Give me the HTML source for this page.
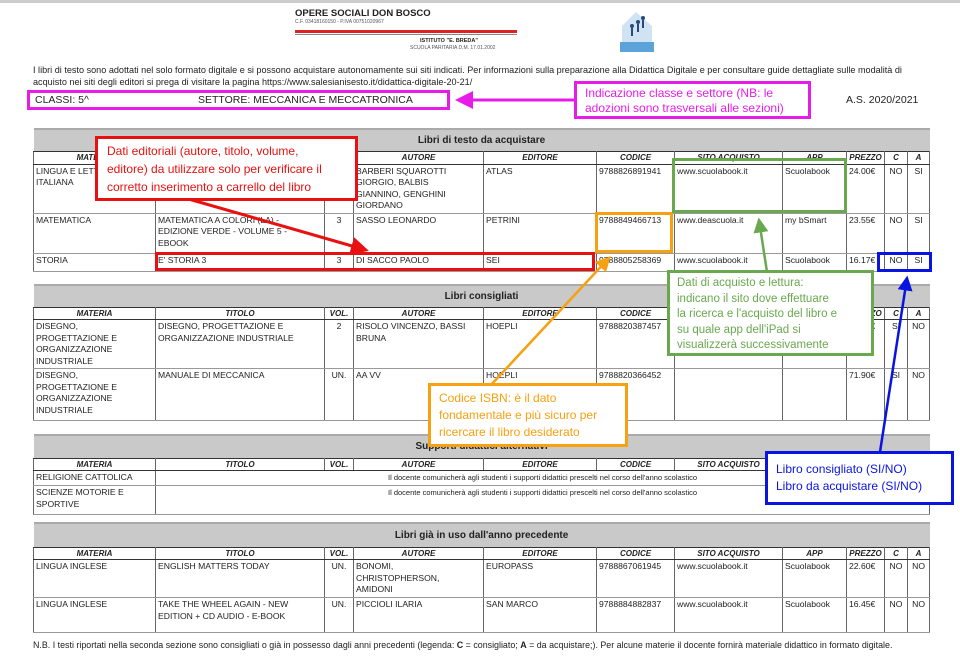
<!DOCTYPE html>
<html><head><meta charset="utf-8">
<style>
*{margin:0;padding:0;box-sizing:border-box}
body{width:960px;height:664px;background:#fff;position:relative;overflow:hidden;font-family:"Liberation Sans",sans-serif;color:#222}
.a{position:absolute}
table{position:absolute;left:33px;width:896px;border-collapse:collapse;table-layout:fixed;font-size:8.6px;line-height:11.5px}
td{border-left:1px solid #666;border-right:1px solid #666;border-bottom:1px solid #999;vertical-align:top;padding:1px 2px;overflow:hidden;white-space:normal}
tr.t td{background:#c9c9c9;text-align:center;font-weight:bold;font-size:10px;border:none;border-top:2px solid #aaa;vertical-align:middle}
tr.h td{font-weight:bold;font-style:italic;text-align:center;border-top:1px solid #333;border-bottom:1px solid #333;padding:0;font-size:8px}
.c{text-align:center}
.box{position:absolute;border:3px solid}
.call{position:absolute;background:#fff;border:3px solid;font-size:12px;line-height:16.5px;padding:3px 6px;white-space:nowrap;overflow:hidden}
</style></head><body>
<div class="a" style="left:0;top:0;width:960px;height:3px;background:#ccc"></div>
<div class="a" style="left:295px;top:8px;font-size:9.5px;font-weight:bold">OPERE SOCIALI DON BOSCO</div>
<div class="a" style="left:295px;top:19px;font-size:5px;color:#555">C.F. 03418160150 - P.IVA 00751020967</div>
<div class="a" style="left:295px;top:30px;width:222px;height:3px;background:#d22"></div>
<div class="a" style="left:295px;top:34px;width:222px;height:1px;background:#888"></div>
<div class="a" style="left:420px;top:38px;font-size:5.5px;font-weight:bold">ISTITUTO "E. BREDA"</div>
<div class="a" style="left:410px;top:45px;font-size:5px;color:#555">SCUOLA PARITARIA D.M. 17.01.2002</div>
<svg class="a" style="left:618px;top:8px" width="40" height="45"><path d="M4 40 L4 18 L18 4 L34 18 L34 40Z" fill="#cfe3f3"/><rect x="2" y="34" width="34" height="10" fill="#5ba3d9"/><circle cx="14" cy="18" r="2" fill="#2a4a7a"/><circle cx="20" cy="14" r="2" fill="#2a4a7a"/><circle cx="25" cy="10" r="2" fill="#2a4a7a"/><rect x="13" y="20" width="2" height="8" fill="#2a4a7a"/><rect x="19" y="16" width="2" height="8" fill="#2a4a7a"/><rect x="24" y="12" width="2" height="8" fill="#2a4a7a"/></svg>
<div class="a" style="left:33px;top:64px;width:920px;font-size:9.1px;line-height:12px;white-space:nowrap">I libri di testo sono adottati nel solo formato digitale e si possono acquistare autonomamente sui siti indicati. Per informazioni sulla preparazione alla Didattica Digitale e per consultare guide dettagliate sulle modalità di<br>acquisto nei siti degli editori si prega di visitare la pagina https://www.salesianisesto.it/didattica-digitale-20-21/</div>
<div class="a" style="left:35px;top:94px;font-size:10.5px">CLASSI: 5^</div>
<div class="a" style="left:198px;top:94px;font-size:10.5px">SETTORE: MECCANICA E MECCATRONICA</div>
<div class="a" style="left:846px;top:94px;font-size:10.5px">A.S. 2020/2021</div>

<table style="top:128px">
<colgroup><col style="width:122px"><col style="width:169px"><col style="width:29px"><col style="width:130px"><col style="width:113px"><col style="width:78px"><col style="width:108px"><col style="width:64px"><col style="width:38px"><col style="width:23px"><col style="width:22px"></colgroup>
<tr class="t" style="height:22px"><td colspan="11">Libri di testo da acquistare</td></tr>
<tr class="h" style="height:13px"><td>MATERIA</td><td>TITOLO</td><td>VOL.</td><td>AUTORE</td><td>EDITORE</td><td>CODICE</td><td>SITO ACQUISTO</td><td>APP</td><td>PREZZO</td><td>C</td><td>A</td></tr>
<tr style="height:49px"><td>LINGUA E LETTERATURA<br>ITALIANA</td><td></td><td class="c"></td><td>BARBERI SQUAROTTI<br>GIORGIO, BALBIS<br>GIANNINO, GENGHINI<br>GIORDANO</td><td>ATLAS</td><td>9788826891941</td><td>www.scuolabook.it</td><td>Scuolabook</td><td>24.00€</td><td class="c">NO</td><td class="c">SI</td></tr>
<tr style="height:40px"><td>MATEMATICA</td><td>MATEMATICA A COLORI (LA) -<br>EDIZIONE VERDE - VOLUME 5 -<br>EBOOK</td><td class="c">3</td><td>SASSO LEONARDO</td><td>PETRINI</td><td>9788849466713</td><td>www.deascuola.it</td><td>my bSmart</td><td>23.55€</td><td class="c">NO</td><td class="c">SI</td></tr>
<tr style="height:18px"><td>STORIA</td><td>E' STORIA 3</td><td class="c">3</td><td>DI SACCO PAOLO</td><td>SEI</td><td>9788805258369</td><td>www.scuolabook.it</td><td>Scuolabook</td><td>16.17€</td><td class="c">NO</td><td class="c">SI</td></tr>
</table>

<table style="top:284px">
<colgroup><col style="width:122px"><col style="width:169px"><col style="width:29px"><col style="width:130px"><col style="width:113px"><col style="width:78px"><col style="width:108px"><col style="width:64px"><col style="width:38px"><col style="width:23px"><col style="width:22px"></colgroup>
<tr class="t" style="height:22px"><td colspan="11">Libri consigliati</td></tr>
<tr class="h" style="height:12px"><td>MATERIA</td><td>TITOLO</td><td>VOL.</td><td>AUTORE</td><td>EDITORE</td><td>CODICE</td><td>SITO ACQUISTO</td><td>APP</td><td>PREZZO</td><td>C</td><td>A</td></tr>
<tr style="height:48px"><td>DISEGNO,<br>PROGETTAZIONE E<br>ORGANIZZAZIONE<br>INDUSTRIALE</td><td>DISEGNO, PROGETTAZIONE E<br>ORGANIZZAZIONE INDUSTRIALE</td><td class="c">2</td><td>RISOLO VINCENZO, BASSI<br>BRUNA</td><td>HOEPLI</td><td>9788820387457</td><td></td><td></td><td>60.90€</td><td class="c">SI</td><td class="c">NO</td></tr>
<tr style="height:52px"><td>DISEGNO,<br>PROGETTAZIONE E<br>ORGANIZZAZIONE<br>INDUSTRIALE</td><td>MANUALE DI MECCANICA</td><td class="c">UN.</td><td>AA VV</td><td>HOEPLI</td><td>9788820366452</td><td></td><td></td><td>71.90€</td><td class="c">SI</td><td class="c">NO</td></tr>
</table>

<table style="top:434px">
<colgroup><col style="width:122px"><col style="width:169px"><col style="width:29px"><col style="width:130px"><col style="width:113px"><col style="width:78px"><col style="width:108px"><col style="width:64px"><col style="width:38px"><col style="width:23px"><col style="width:22px"></colgroup>
<tr class="t" style="height:23px"><td colspan="11">Supporti didattici alternativi</td></tr>
<tr class="h" style="height:12px"><td>MATERIA</td><td>TITOLO</td><td>VOL.</td><td>AUTORE</td><td>EDITORE</td><td>CODICE</td><td>SITO ACQUISTO</td><td>APP</td><td>PREZZO</td><td>C</td><td>A</td></tr>
<tr style="height:15px"><td>RELIGIONE CATTOLICA</td><td colspan="10" class="c" style="font-size:7.5px">Il docente comunicherà agli studenti i supporti didattici prescelti nel corso dell'anno scolastico</td></tr>
<tr style="height:29px"><td>SCIENZE MOTORIE E<br>SPORTIVE</td><td colspan="10" class="c" style="font-size:7.5px">Il docente comunicherà agli studenti i supporti didattici prescelti nel corso dell'anno scolastico</td></tr>
</table>

<table style="top:522px">
<colgroup><col style="width:122px"><col style="width:169px"><col style="width:29px"><col style="width:130px"><col style="width:113px"><col style="width:78px"><col style="width:108px"><col style="width:64px"><col style="width:38px"><col style="width:23px"><col style="width:22px"></colgroup>
<tr class="t" style="height:24px"><td colspan="11">Libri già in uso dall'anno precedente</td></tr>
<tr class="h" style="height:12px"><td>MATERIA</td><td>TITOLO</td><td>VOL.</td><td>AUTORE</td><td>EDITORE</td><td>CODICE</td><td>SITO ACQUISTO</td><td>APP</td><td>PREZZO</td><td>C</td><td>A</td></tr>
<tr style="height:38px"><td>LINGUA INGLESE</td><td>ENGLISH MATTERS TODAY</td><td class="c">UN.</td><td>BONOMI,<br>CHRISTOPHERSON,<br>AMIDONI</td><td>EUROPASS</td><td>9788867061945</td><td>www.scuolabook.it</td><td>Scuolabook</td><td>22.60€</td><td class="c">NO</td><td class="c">NO</td></tr>
<tr style="height:35px"><td>LINGUA INGLESE</td><td>TAKE THE WHEEL AGAIN - NEW<br>EDITION + CD AUDIO - E-BOOK</td><td class="c">UN.</td><td>PICCIOLI ILARIA</td><td>SAN MARCO</td><td>9788884882837</td><td>www.scuolabook.it</td><td>Scuolabook</td><td>16.45€</td><td class="c">NO</td><td class="c">NO</td></tr>
</table>

<div class="a" style="left:33px;top:640px;font-size:8.9px;white-space:nowrap">N.B. I testi riportati nella seconda sezione sono consigliati o già in possesso dagli anni precedenti (legenda: <b>C</b> = consigliato; <b>A</b> = da acquistare;). Per alcune materie il docente fornirà materiale didattico in formato digitale.</div>

<div class="box" style="left:27px;top:90px;width:423px;height:20px;border-color:#e81ce8"></div>
<div class="box" style="left:155px;top:252px;width:440px;height:19px;border-color:#e81010"></div>
<div class="box" style="left:595px;top:212px;width:78px;height:41px;border-color:#f7a010"></div>
<div class="box" style="left:672px;top:158px;width:175px;height:55px;border-color:#6aa84f"></div>
<div class="box" style="left:877px;top:252px;width:55px;height:20px;border-color:#0a14e0"></div>

<svg class="a" style="left:0;top:0" width="960" height="664">
<defs>
<marker id="m1" markerWidth="6" markerHeight="6" refX="5" refY="3" orient="auto" markerUnits="strokeWidth"><path d="M0,0 L6,3 L0,6Z" fill="#e81ce8"/></marker>
<marker id="m2" markerWidth="6" markerHeight="6" refX="5" refY="3" orient="auto" markerUnits="strokeWidth"><path d="M0,0 L6,3 L0,6Z" fill="#e81010"/></marker>
<marker id="m3" markerWidth="6" markerHeight="6" refX="5" refY="3" orient="auto" markerUnits="strokeWidth"><path d="M0,0 L6,3 L0,6Z" fill="#f7a010"/></marker>
<marker id="m4" markerWidth="6" markerHeight="6" refX="5" refY="3" orient="auto" markerUnits="strokeWidth"><path d="M0,0 L6,3 L0,6Z" fill="#6aa84f"/></marker>
<marker id="m5" markerWidth="6" markerHeight="6" refX="5" refY="3" orient="auto" markerUnits="strokeWidth"><path d="M0,0 L6,3 L0,6Z" fill="#0a14e0"/></marker>
</defs>
<line x1="575" y1="100" x2="458" y2="100" stroke="#e81ce8" stroke-width="3" marker-end="url(#m1)"/>
<line x1="185" y1="198" x2="366" y2="250" stroke="#e81010" stroke-width="3" marker-end="url(#m2)"/>
<line x1="490" y1="386" x2="609" y2="258" stroke="#f7a010" stroke-width="2.5" marker-end="url(#m3)"/>
<line x1="767" y1="272" x2="759" y2="220" stroke="#6aa84f" stroke-width="2.5" marker-end="url(#m4)"/>
<line x1="880" y1="452" x2="907" y2="278" stroke="#0a14e0" stroke-width="2.5" marker-end="url(#m5)"/>
</svg>

<div class="call" style="left:574px;top:81px;width:237px;height:38px;border-color:#e81ce8;color:#e81ce8;line-height:15px;padding:2px 8px">Indicazione classe e settore (NB: le<br>adozioni sono trasversali alle sezioni)</div>
<div class="call" style="left:95px;top:136px;width:263px;height:65px;border-color:#e81010;color:#e81010;line-height:18px;padding:3px 9px">Dati editoriali (autore, titolo, volume,<br>editore) da utilizzare solo per verificare il<br>corretto inserimento a carrello del libro</div>
<div class="call" style="left:428px;top:383px;width:200px;height:64px;border-color:#f7a010;color:#f7a010;line-height:17px;padding:4px 8px">Codice ISBN: è il dato<br>fondamentale e più sicuro per<br>ricercare il libro desiderato</div>
<div class="call" style="left:667px;top:270px;width:207px;height:86px;border-color:#6aa84f;color:#6aa84f;font-size:11.5px;line-height:15.6px;padding:3px 7px">Dati di acquisto e lettura:<br>indicano il sito dove effettuare<br>la ricerca e l'acquisto del libro e<br>su quale app dell'iPad si<br>visualizzerà successivamente</div>
<div class="call" style="left:765px;top:451px;width:189px;height:54px;border-color:#0a14e0;color:#0a14e0;line-height:17px;padding:7px 8px">Libro consigliato (SI/NO)<br>Libro da acquistare (SI/NO)</div>
</body></html>
